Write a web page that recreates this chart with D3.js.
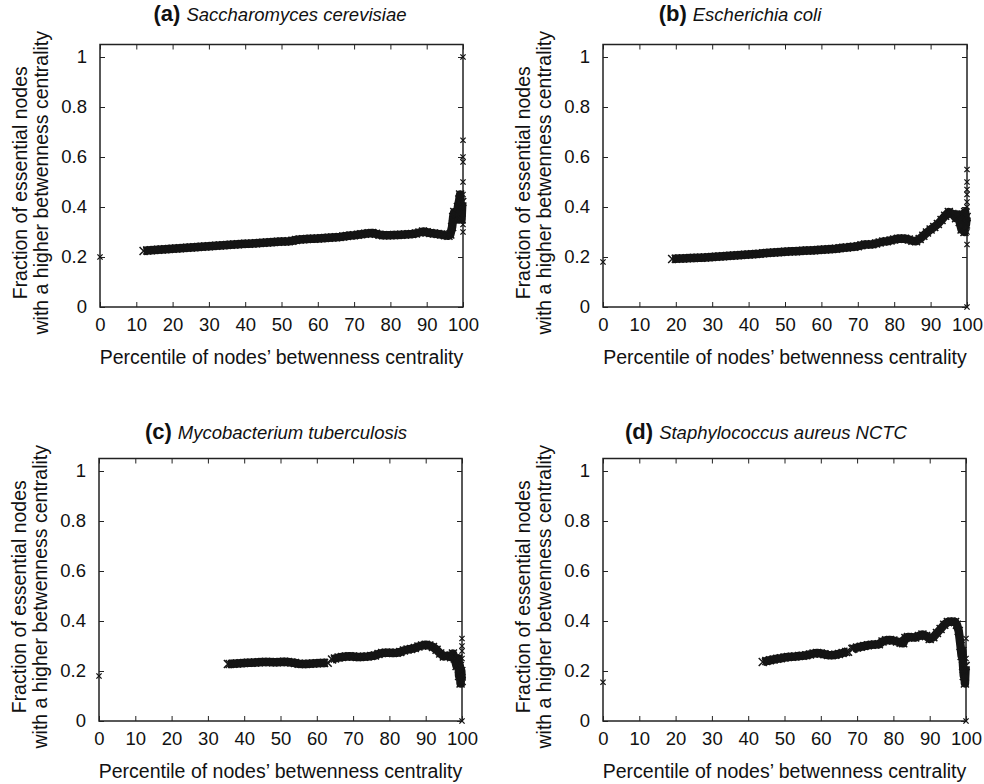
<!DOCTYPE html>
<html>
<head>
<meta charset="utf-8">
<script src="https://cdn.jsdelivr.net/npm/d3@7"></script>
<style>
  body { margin: 0; background: #fff; }
  text { font-family: "Liberation Sans", Arial, Helvetica, sans-serif; fill: #111; }
</style>
</head>
<body>
<div id="chart"></div>
<script>
const xTicks = [0, 10, 20, 30, 40, 50, 60, 70, 80, 90, 100];
const yTicks = [0, 0.2, 0.4, 0.6, 0.8, 1];
const panelTags = ['(a)', '(b)', '(c)', '(d)'];
const species = ['Saccharomyces cerevisiae', 'Escherichia coli', 'Mycobacterium tuberculosis', 'Staphylococcus aureus NCTC'];
const yLabel = ['Fraction of essential nodes', 'with a higher betwenness centrality'];
const xLabel = 'Percentile of nodes\u2019 betwenness centrality';

// [percentile, fraction]; null marks a visible gap
const aBand = [[12,.224],[13,.226],[14,.227],[15,.228],[16,.229],[17,.230],[18,.231],[19,.232],[20,.233],[21,.234],
  [22,.235],[23,.236],[24,.237],[25,.238],[26,.239],[27,.240],[28,.241],[29,.242],[30,.243],[31,.244],
  [32,.245],[33,.246],[34,.247],[35,.248],[36,.249],[37,.250],[38,.251],[39,.252],[40,.253],[41,.253],
  [42,.254],[43,.255],[44,.256],[45,.257],[46,.258],[47,.259],[48,.260],[49,.261],[50,.262],[51,.262],
  [52,.263],[53,.265],[54,.268],[55,.270],[56,.271],[57,.272],[58,.273],[59,.273],[60,.274],[61,.275],
  [62,.276],[63,.277],[64,.278],[65,.279],[66,.280],[67,.282],[68,.284],[69,.286],[70,.287],[71,.289],
  [72,.291],[73,.293],[74,.295],[75,.296],[76,.293],[77,.289],[78,.287],[79,.287],[80,.287],[81,.288],
  [82,.288],[83,.289],[84,.290],[85,.291],[86,.292],[87,.294],[88,.298],[89,.302],[90,.299],[91,.296],
  [92,.294],[93,.292],[94,.290],[95,.287],[96,.285],[96.5,.29],[97,.32],[97.3,.36],[97.6,.38],[98,.35],
  [98.3,.37],[98.6,.40],[99,.43],[99.2,.45],[99.4,.40],[99.6,.35],[99.8,.42]];
const bBand = [[19,.192],[20,.193],[21,.194],[22,.194],[23,.195],[24,.196],[25,.196],[26,.197],[27,.197],[28,.198],
  [29,.199],[30,.200],[31,.201],[32,.202],[33,.203],[34,.204],[35,.205],[36,.206],[37,.207],[38,.208],
  [39,.209],[40,.210],[41,.211],[42,.212],[43,.213],[44,.215],[45,.216],[46,.217],[47,.218],[48,.219],
  [49,.220],[50,.221],[51,.222],[52,.223],[53,.223],[54,.224],[55,.225],[56,.226],[57,.226],[58,.227],
  [59,.228],[60,.229],[61,.230],[62,.231],[63,.232],[64,.233],[65,.235],[66,.237],[67,.238],[68,.240],
  [69,.241],[70,.243],[71,.247],[72,.250],[73,.250],[74,.251],[75,.254],[76,.258],[77,.262],[78,.263],
  [79,.266],[80,.270],[81,.273],[82,.274],[83,.273],[84,.270],[85,.265],[86,.263],[87,.272],[88,.285],
  [89,.298],[90,.310],[91,.320],[92,.332],[93,.348],[94,.365],[95,.380],[96,.372],[97,.355],[97.5,.37],
  [98,.34],[98.5,.31],[99,.37],[99.3,.30],[99.5,.38],[99.7,.33],[99.9,.36]];
const cBand = [[35.5,.228],[36,.228],[37,.229],[38,.230],[39,.231],[40,.232],[41,.233],[42,.233],[43,.234],[44,.235],
  [45,.236],[46,.236],[47,.236],[48,.235],[49,.235],[50,.236],[51,.237],[52,.236],[53,.234],[54,.232],
  [55,.229],[56,.228],[57,.228],[58,.229],[59,.230],[60,.231],[61,.232],[62,.232],[63,.233],[63.6,null],
  [64.2,.246],[65,.250],[66,.254],[67,.256],[68,.258],[69,.259],[70,.258],[71,.256],[72,.256],[73,.257],
  [74,.258],[75,.260],[76,.262],[77,.268],[78,.272],[79,.273],[80,.273],[81,.272],[82,.273],[83,.276],
  [84,.282],[85,.286],[86,.288],[87,.292],[88,.298],[89,.302],[90,.305],[91,.302],[92,.296],[93,.285],
  [94,.270],[95,.258],[96,.262],[97,.255],[97.5,.27],[98,.25],[98.5,.22],[99,.25],[99.2,.18],[99.4,.22],
  [99.6,.15],[99.8,.20],[99.9,.16]];
const dBand = [[44,.236],[45,.240],[46,.243],[47,.246],[48,.249],[49,.251],[50,.254],[51,.256],[52,.257],[53,.258],
  [54,.260],[55,.261],[56,.263],[57,.266],[58,.270],[59,.272],[60,.270],[61,.267],[62,.264],[63,.263],
  [64,.265],[65,.268],[66,.272],[67,.276],[67.5,.277],[68.1,null],[68.7,.288],[69,.290],[70,.294],[71,.297],
  [72,.300],[73,.303],[74,.305],[75,.306],[76,.307],[77,.318],[78,.323],[79,.324],[80,.322],[81,.318],
  [82,.313],[82.7,.311],[83.3,.332],[84,.336],[85,.335],[86,.334],[87,.340],[88,.346],[89,.340],[90,.328],
  [91,.335],[92,.352],[93,.368],[94,.385],[95,.396],[96,.398],[97,.396],[97.5,.385],[98,.36],[98.5,.30],
  [98.8,.26],[99,.28],[99.2,.22],[99.4,.18],[99.6,.20],[99.7,.15],[99.9,.22]];

// lone markers at percentile 0 and at percentile 100
const firstValue = [0.2, 0.18, 0.18, 0.155];
const aEdge = [0.30, 0.33, 0.38, 0.45, 0.5, 0.58, 0.6, 0.667, 1.0];
const bEdge = [0, 0.25, 0.3, 0.35, 0.4, 0.42, 0.45, 0.47, 0.5, 0.55];
const cEdge = [0, 0.15, 0.2, 0.25, 0.28, 0.3, 0.33];
const dEdge = [0, 0.2, 0.25, 0.33];

const bands = [aBand, bBand, cBand, dBand];
const edges = [aEdge, bEdge, cEdge, dEdge];

// panel layout (pixels)
const boxes = [
    {left: 100, right: 463, bottom: 307, titleX: 280, titleY: 21},
    {left: 603, right: 967, bottom: 307, titleX: 740, titleY: 21},
    {left: 99, right: 462, bottom: 721, titleX: 276, titleY: 439},
    {left: 603, right: 966, bottom: 721, titleX: 766, titleY: 439}
];

const svg = d3.select('#chart').append('svg')
    .attr('width', 984).attr('height', 784);

const cross = (sel, r) => sel.append('path')
    .attr('d', `M${-r},${-r}L${r},${r}M${-r},${r}L${r},${-r}`);

boxes.forEach((b, i) => {
    const x = d3.scaleLinear().domain([0, 100]).range([b.left, b.right]);
    const y = d3.scaleLinear().domain([0, 1.05]).range([b.bottom, b.bottom - 262.5]);
    const top = y(1.05);
    const g = svg.append('g');

    // ticks point inward on all four sides
    g.append('g').attr('transform', `translate(0,${b.bottom})`)
        .call(d3.axisBottom(x).tickValues(xTicks).tickSize(-5).tickPadding(11).tickFormat(d => d));
    g.append('g').attr('transform', `translate(0,${top})`)
        .call(d3.axisTop(x).tickValues(xTicks).tickSize(-5).tickFormat(''));
    g.append('g').attr('transform', `translate(${b.left},0)`)
        .call(d3.axisLeft(y).tickValues(yTicks).tickSize(-5).tickPadding(13).tickFormat(d => d));
    g.append('g').attr('transform', `translate(${b.right},0)`)
        .call(d3.axisRight(y).tickValues(yTicks).tickSize(-5).tickFormat(''));
    g.selectAll('.domain').remove();
    g.selectAll('.tick line').attr('stroke', '#222').attr('stroke-width', 1);
    g.selectAll('.tick text').attr('font-size', 18.5).attr('fill', '#111')
        .style('font-family', '"Liberation Sans", Arial, sans-serif');

    g.append('rect').attr('x', b.left).attr('y', top)
        .attr('width', b.right - b.left).attr('height', b.bottom - top)
        .attr('fill', 'none').attr('stroke', '#222').attr('stroke-width', 1.5);

    // title
    const t = g.append('text').attr('x', b.titleX).attr('y', b.titleY).attr('text-anchor', 'middle');
    t.append('tspan').attr('font-weight', 'bold').attr('font-size', 22).text(panelTags[i]);
    t.append('tspan').attr('font-style', 'italic').attr('font-size', 18.5).attr('dx', 6).text(species[i]);

    // axis labels
    const midY = (top + b.bottom) / 2 + 7;
    yLabel.forEach((s, k) => {
        g.append('text')
            .attr('transform', `translate(${b.left - 73 + k * 21},${midY}) rotate(-90)`)
            .attr('text-anchor', 'middle').attr('font-size', 19.5).text(s);
    });
    g.append('text').attr('x', (b.left + b.right) / 2).attr('y', b.bottom + 57)
        .attr('text-anchor', 'middle').attr('font-size', 19.5).text(xLabel);

    // dense band of markers
    const band = bands[i];
    const line = d3.line().defined(d => d[1] !== null).x(d => x(d[0])).y(d => y(d[1]));
    g.append('path').datum(band).attr('d', line)
        .attr('fill', 'none').attr('stroke', '#151515').attr('stroke-width', 8.5)
        .attr('stroke-linejoin', 'round');
    const marks = g.append('g').attr('stroke', '#151515').attr('stroke-width', 1.5);
    band.filter(d => d[1] !== null).forEach(d => {
        cross(marks.append('g').attr('transform', `translate(${x(d[0])},${y(d[1])})`), 4);
    });

    const lone = g.append('g').attr('stroke', '#151515').attr('stroke-width', 1.3);
    cross(lone.append('g').attr('transform', `translate(${x(0)},${y(firstValue[i])})`), 2.6);
    edges[i].forEach(v => {
        cross(lone.append('g').attr('transform', `translate(${x(100)},${y(v)})`), 2.6);
    });
});
</script>
</body>
</html>
